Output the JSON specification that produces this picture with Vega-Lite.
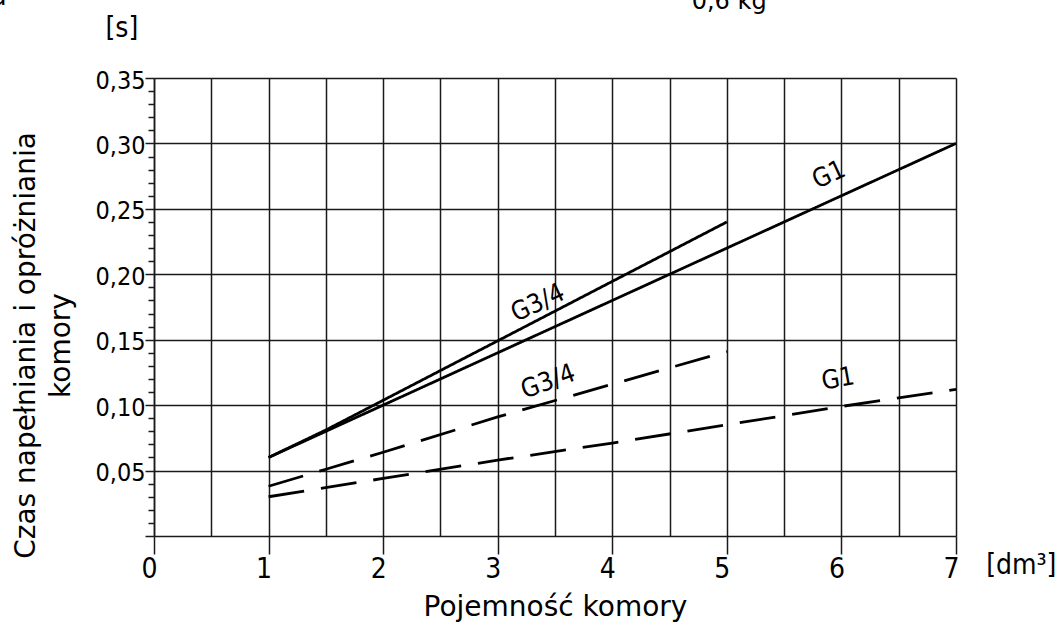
{
  "$schema": "https://vega.github.io/schema/vega-lite/v6.json",
  "width": 802,
  "height": 458,
  "autosize": {"type": "none"},
  "padding": {"left": 154, "top": 78, "right": 100, "bottom": 91},
  "background": "white",
  "config": {"view": {"stroke": null}},
  "layer": [
    {
      "data": {"values": [
        {"seria": "G1 ciągła", "linia": "ciągła", "V": 1, "t": 0.06},
        {"seria": "G1 ciągła", "linia": "ciągła", "V": 7, "t": 0.30},
        {"seria": "G3/4 ciągła", "linia": "ciągła", "V": 1, "t": 0.06},
        {"seria": "G3/4 ciągła", "linia": "ciągła", "V": 1.5, "t": 0.081},
        {"seria": "G3/4 ciągła", "linia": "ciągła", "V": 5, "t": 0.24},
        {"seria": "G3/4 przerywana", "linia": "przerywana", "V": 1, "t": 0.038},
        {"seria": "G3/4 przerywana", "linia": "przerywana", "V": 1.5, "t": 0.051},
        {"seria": "G3/4 przerywana", "linia": "przerywana", "V": 2, "t": 0.064},
        {"seria": "G3/4 przerywana", "linia": "przerywana", "V": 3, "t": 0.091},
        {"seria": "G3/4 przerywana", "linia": "przerywana", "V": 4, "t": 0.116},
        {"seria": "G3/4 przerywana", "linia": "przerywana", "V": 5, "t": 0.141},
        {"seria": "G1 przerywana", "linia": "przerywana", "V": 1, "t": 0.030},
        {"seria": "G1 przerywana", "linia": "przerywana", "V": 2, "t": 0.044},
        {"seria": "G1 przerywana", "linia": "przerywana", "V": 3, "t": 0.058},
        {"seria": "G1 przerywana", "linia": "przerywana", "V": 4, "t": 0.071},
        {"seria": "G1 przerywana", "linia": "przerywana", "V": 5, "t": 0.085},
        {"seria": "G1 przerywana", "linia": "przerywana", "V": 6, "t": 0.099},
        {"seria": "G1 przerywana", "linia": "przerywana", "V": 7, "t": 0.112}
      ]},
      "mark": {"type": "line", "color": "black", "strokeWidth": 2.8},
      "encoding": {
        "x": {
          "field": "V", "type": "quantitative",
          "scale": {"domain": [0, 7], "nice": false, "zero": false},
          "axis": {
            "values": [0, 0.5, 1, 1.5, 2, 2.5, 3, 3.5, 4, 4.5, 5, 5.5, 6, 6.5, 7],
            "tickCount": 40,
            "domain": false,
            "grid": true,
            "gridColor": "#1a1a1a",
            "gridWidth": 1.5,
            "ticks": true,
            "tickColor": "#1a1a1a",
            "tickWidth": 1.5,
            "tickSize": 18,
            "tickOpacity": {"condition": {"test": "datum.value % 1 == 0", "value": 1}, "value": 0},
            "labelExpr": "datum.value % 1 == 0 ? '' + datum.value : ''",
            "labelFont": "'DejaVu Sans Condensed', Roboto, sans-serif",
            "labelFontSize": 28,
            "labelColor": "black",
            "labelPadding": 1,
            "labelOffset": -5,
            "labelFlush": false,
            "labelOverlap": false,
            "title": "Pojemność komory",
            "titleFont": "DejaVu Sans",
            "titleFontSize": 28,
            "titleFontWeight": "normal",
            "titleColor": "black",
            "titleBaseline": "alphabetic",
            "titleY": 79
          }
        },
        "y": {
          "field": "t", "type": "quantitative",
          "scale": {"domain": [0, 0.35], "nice": false, "zero": false},
          "axis": {
            "values": [0, 0.01, 0.02, 0.03, 0.04, 0.05, 0.06, 0.07, 0.08, 0.09, 0.1, 0.11, 0.12, 0.13, 0.14, 0.15, 0.16, 0.17, 0.18, 0.19, 0.2, 0.21, 0.22, 0.23, 0.24, 0.25, 0.26, 0.27, 0.28, 0.29, 0.3, 0.31, 0.32, 0.33, 0.34, 0.35],
            "tickCount": 100,
            "domain": true,
            "domainColor": "#1a1a1a",
            "domainWidth": 1.5,
            "grid": true,
            "gridColor": "#1a1a1a",
            "gridWidth": 1.5,
            "gridOpacity": {"condition": {"test": "abs(datum.value*20 - round(datum.value*20)) < 0.001", "value": 1}, "value": 0},
            "tickColor": "#1a1a1a",
            "tickWidth": 1.5,
            "tickSize": {"condition": {"test": "abs(datum.value*20 - round(datum.value*20)) < 0.001", "value": 9}, "value": 6},
            "labelExpr": "abs(datum.value*20 - round(datum.value*20)) < 0.001 && datum.value > 0.001 ? replace(format(datum.value, '.2f'), '.', ',') : ''",
            "labelFont": "'DejaVu Sans Condensed', Roboto, sans-serif",
            "labelFontSize": 25,
            "labelColor": "black",
            "labelPadding": 0,
            "labelOffset": 2,
            "labelFlush": false,
            "labelOverlap": false,
            "title": ["Czas napełniania i opróżniania", "komory"],
            "titleFont": "DejaVu Sans",
            "titleFontSize": 28,
            "titleFontWeight": "normal",
            "titleColor": "black",
            "titleAngle": -90,
            "titleAlign": "center",
            "titleBaseline": "top",
            "titleLineHeight": 35,
            "titleX": -142,
            "titleY": 267
          }
        },
        "detail": {"field": "seria", "type": "nominal"},
        "strokeDash": {
          "field": "linia", "type": "nominal",
          "scale": {"domain": ["ciągła", "przerywana"], "range": [[1, 0], [36, 17]]},
          "legend": null
        }
      }
    },
    {
      "data": {"values": [{"etykieta": "G1", "V": 5.89, "t": 0.276}]},
      "mark": {"type": "text", "font": "'DejaVu Sans Condensed', Roboto, sans-serif", "fontSize": 26, "angle": -25, "align": "center", "baseline": "middle", "color": "black"},
      "encoding": {"x": {"field": "V", "type": "quantitative"}, "y": {"field": "t", "type": "quantitative"}, "text": {"field": "etykieta"}}
    },
    {
      "data": {"values": [{"etykieta": "G3/4", "V": 3.35, "t": 0.178}]},
      "mark": {"type": "text", "font": "'DejaVu Sans Condensed', Roboto, sans-serif", "fontSize": 26, "angle": -25, "align": "center", "baseline": "middle", "color": "black"},
      "encoding": {"x": {"field": "V", "type": "quantitative"}, "y": {"field": "t", "type": "quantitative"}, "text": {"field": "etykieta"}}
    },
    {
      "data": {"values": [{"etykieta": "G3/4", "V": 3.44, "t": 0.118}]},
      "mark": {"type": "text", "font": "'DejaVu Sans Condensed', Roboto, sans-serif", "fontSize": 26, "angle": -20, "align": "center", "baseline": "middle", "color": "black"},
      "encoding": {"x": {"field": "V", "type": "quantitative"}, "y": {"field": "t", "type": "quantitative"}, "text": {"field": "etykieta"}}
    },
    {
      "data": {"values": [{"etykieta": "G1", "V": 5.97, "t": 0.12}]},
      "mark": {"type": "text", "font": "'DejaVu Sans Condensed', Roboto, sans-serif", "fontSize": 26, "angle": -10, "align": "center", "baseline": "middle", "color": "black"},
      "encoding": {"x": {"field": "V", "type": "quantitative"}, "y": {"field": "t", "type": "quantitative"}, "text": {"field": "etykieta"}}
    },
    {
      "data": {"values": [{"jednostka": "[s]", "V": -0.28, "t": 0.3876}, {"jednostka": "[dm³]", "V": 7.57, "t": -0.0229}]},
      "mark": {"type": "text", "font": "'DejaVu Sans Condensed', Roboto, sans-serif", "fontSize": 28, "align": "center", "baseline": "middle", "color": "black"},
      "encoding": {"x": {"field": "V", "type": "quantitative"}, "y": {"field": "t", "type": "quantitative"}, "text": {"field": "jednostka"}}
    },
    {
      "data": {"values": [{"napis": "0,6 kg", "V": 5.02, "t": 0.4029}, {"napis": "a", "V": -1.353, "t": 0.406}]},
      "mark": {"type": "text", "font": "DejaVu Sans", "fontSize": 24, "align": "center", "baseline": "alphabetic", "color": "black"},
      "encoding": {"x": {"field": "V", "type": "quantitative"}, "y": {"field": "t", "type": "quantitative"}, "text": {"field": "napis"}}
    }
  ]
}
